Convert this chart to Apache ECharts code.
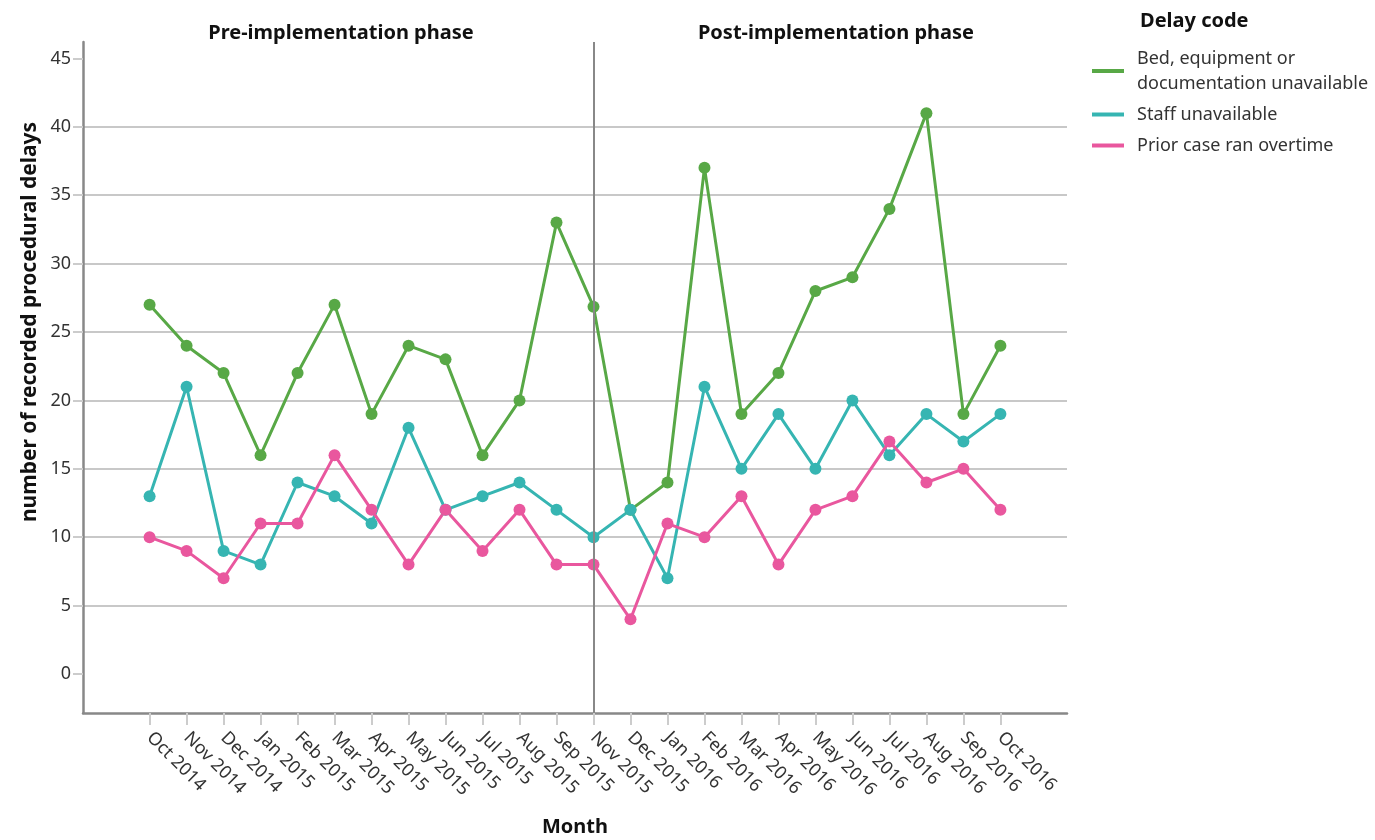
<!DOCTYPE html>
<html>
<head>
<meta charset="utf-8">
<script src="https://cdn.jsdelivr.net/npm/echarts@6/dist/echarts.min.js"></script>
<style>
  html, body { margin: 0; padding: 0; background: #fff; }
  #chart { width: 1375px; height: 840px; }
</style>
</head>
<body>
<div id="chart"></div>
<script>
const months = [
  'Oct 2014', 'Nov 2014', 'Dec 2014', 'Jan 2015', 'Feb 2015', 'Mar 2015',
  'Apr 2015', 'May 2015', 'Jun 2015', 'Jul 2015', 'Aug 2015', 'Sep 2015',
  'Nov 2015', 'Dec 2015', 'Jan 2016', 'Feb 2016', 'Mar 2016', 'Apr 2016',
  'May 2016', 'Jun 2016', 'Jul 2016', 'Aug 2016', 'Sep 2016', 'Oct 2016',
]

const bedUnavailable = [27, 24, 22, 16, 22, 27, 19, 24, 23, 16, 20, 33, 26.85, 12, 14, 37, 19, 22, 28, 29, 34, 41, 19, 24]
const staffUnavailable = [13, 21, 9, 8, 14, 13, 11, 18, 12, 13, 14, 12, 10, 12, 7, 21, 15, 19, 15, 20, 16, 19, 17, 19]
const priorCaseOvertime = [10, 9, 7, 11, 11, 16, 12, 8, 12, 9, 12, 8, 8, 4, 11, 10, 13, 8, 12, 13, 17, 14, 15, 12]

const yTicks = [0, 5, 10, 15, 20, 25, 30, 35, 40, 45]
const phaseSplit = 12 // Nov 2015

const font = 'Noto Sans'
const monthIndex = months.map((m, i) => i)

function makeSeries(name, values, color) {
  return {
    name: name,
    type: 'line',
    data: values.map((v, i) => [i, v]),
    symbol: 'circle',
    symbolSize: 12,
    lineStyle: { width: 3, color: color },
    itemStyle: { color: color },
    emphasis: { disabled: true },
  }
}

const series = [
  makeSeries('Bed, equipment or\ndocumentation unavailable', bedUnavailable, '#58a846'),
  makeSeries('Staff unavailable', staffUnavailable, '#36b5b2'),
  makeSeries('Prior case ran overtime', priorCaseOvertime, '#e9579e'),
]

series[0].markLine = {
  silent: true,
  symbol: 'none',
  label: { show: false },
  lineStyle: { color: '#888', width: 2, type: 'solid' },
  data: [{ xAxis: phaseSplit }],
}

const chart = echarts.init(document.getElementById('chart'))

chart.setOption({
  animation: false,
  textStyle: { fontFamily: font },
  grid: { left: 83, right: 308, top: 42, bottom: 127, containLabel: false, outerBoundsMode: 'none' },
  legend: {
    orient: 'vertical',
    left: 1092,
    top: 46,
    padding: 0,
    icon: 'rect',
    itemWidth: 32,
    itemHeight: 4,
    itemGap: 6,
    selectedMode: false,
    textStyle: { fontFamily: font, fontSize: 18, color: '#333', lineHeight: 25, padding: [0, 0, 0, 8] },
  },
  graphic: [
    {
      type: 'text', left: 1140, top: 11,
      style: { text: 'Delay code', font: 'bold 20px "Noto Sans"', fill: '#111' },
    },
    {
      type: 'text', x: 341, y: 33,
      style: { text: 'Pre-implementation phase', font: 'bold 20px "Noto Sans"', fill: '#111', textAlign: 'center', textVerticalAlign: 'middle' },
    },
    {
      type: 'text', x: 836, y: 33,
      style: { text: 'Post-implementation phase', font: 'bold 20px "Noto Sans"', fill: '#111', textAlign: 'center', textVerticalAlign: 'middle' },
    },
    {
      type: 'text', x: 30, y: 322, rotation: Math.PI / 2,
      style: { text: 'number of recorded procedural delays', font: 'bold 21px "Noto Sans"', fill: '#111', textAlign: 'center', textVerticalAlign: 'middle' },
    },
  ],
  xAxis: {
    type: 'value',
    min: -1.8,
    max: 24.8,
    name: 'Month',
    nameLocation: 'middle',
    nameGap: 104,
    nameTextStyle: { fontFamily: font, fontSize: 20, fontWeight: 'bold', color: '#111' },
    axisLine: { onZero: false, lineStyle: { color: '#888', width: 2.5 } },
    axisTick: { show: true, length: 12, customValues: monthIndex, lineStyle: { color: '#ccc', width: 2 } },
    axisLabel: {
      customValues: monthIndex,
      formatter: (v) => months[Math.round(v)] || '',
      rotate: -45,
      margin: 22,
      fontSize: 18,
      color: '#333',
    },
    splitLine: { show: false },
  },
  yAxis: {
    type: 'value',
    min: -2.85,
    max: 46.2,
    minInterval: 5,
    maxInterval: 5,
    axisLine: { show: true, onZero: false, lineStyle: { color: '#888', width: 2.5 } },
    axisTick: { show: true, length: 10, customValues: yTicks, lineStyle: { color: '#ccc', width: 2 } },
    axisLabel: { customValues: yTicks, fontSize: 18, color: '#333', margin: 12 },
    splitLine: { show: true, showMinLine: false, showMaxLine: false, lineStyle: { color: '#c8c8c8', width: 2 } },
  },
  series: series,
})
</script>
</body>
</html>
